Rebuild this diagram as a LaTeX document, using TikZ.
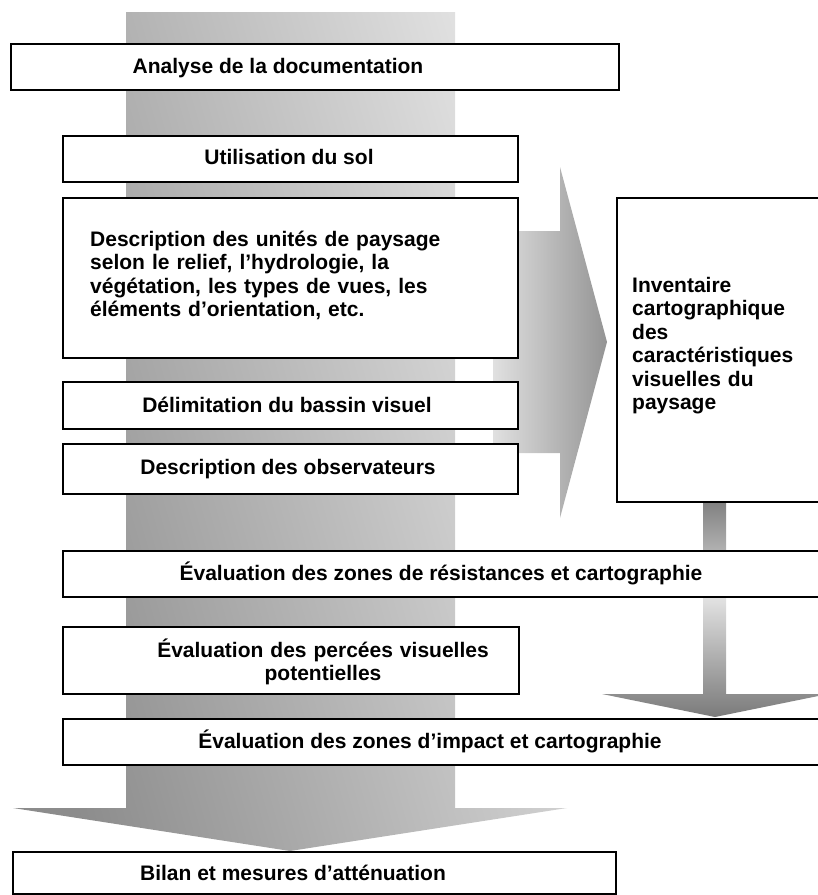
\documentclass[tikz,border=0pt]{standalone}
\usepackage{fontspec}
\setmainfont{Liberation Sans}
\usetikzlibrary{calc}
\begin{document}
\begin{tikzpicture}[x=1pt,y=-1pt,
  boxnode/.style={draw=black, fill=white, line width=1.6pt, inner sep=0pt, anchor=north west},
  lbl/.style={font=\fontsize{21}{23.5}\selectfont\bfseries, inner sep=0pt, anchor=base},
  lblml/.style={lbl, anchor=base west, align=left, text width=#1},
  lblmc/.style={lbl, anchor=base, align=center, text width=#1},
]
\useasboundingbox (0,0) rectangle (818,895);
% main vertical band with arrow head
\shade[top color=black!10, bottom color=black!45, shading angle=-74]
  (126,12) -- (455,12) -- (455,808) -- (567,808) -- (290,851) -- (13,808) -- (126,808) -- cycle;
% right arrow
\shade[left color=black!12, right color=black!42]
  (493,231) -- (560,231) -- (560,167) -- (607,342) -- (560,518) -- (560,453) -- (493,453) -- cycle;
% connector under inventory box
\shade[top color=black!50, bottom color=black!30] (703,500) rectangle (726,552);
% down arrow on the right
\shade[top color=black!10, bottom color=black!52]
  (703,594) -- (726,594) -- (726,694) -- (828,694) -- (715,717) -- (602,694) -- (703,694) -- cycle;

% boxes
\node[boxnode, minimum width=608pt, minimum height=46pt] (b1) at (10,43) {};
\node[boxnode, minimum width=455pt, minimum height=46pt] (b2) at (62,135) {};
\node[boxnode, minimum width=455pt, minimum height=160pt] (b3) at (62,197) {};
\node[boxnode, minimum width=455pt, minimum height=47pt] (b4) at (62,381) {};
\node[boxnode, minimum width=455pt, minimum height=50pt] (b5) at (62,443) {};
\node[boxnode, minimum width=210pt, minimum height=304pt] (b6) at (616,197) {};
\node[boxnode, minimum width=762pt, minimum height=46pt] (b7) at (62,550) {};
\node[boxnode, minimum width=456pt, minimum height=67pt] (b8) at (62,626) {};
\node[boxnode, minimum width=762pt, minimum height=46pt] (b9) at (62,718) {};
\node[boxnode, minimum width=603pt, minimum height=42pt] (b10) at (12,851) {};

% texts
\node[lbl] (t1) at (278,73) {Analyse de la documentation};
\node[lbl] (t2) at (289,164) {Utilisation du sol};
\node[lblml=420pt] (t3) at (90,246) {Description des unités de paysage\\selon le relief, l’hydrologie, la\\végétation, les types de vues, les\\éléments d’orientation, etc.};
\node[lbl] (t4) at (287,412) {Délimitation du bassin visuel};
\node[lbl] (t5) at (288,474) {Description des observateurs};
\node[lblml=185pt] (t6) at (632,292) {Inventaire\\cartographique\\des\\caractéristiques\\visuelles du\\paysage};
\node[lbl] (t7) at (441,580) {Évaluation des zones de résistances et cartographie};
\node[lblmc=420pt] (t8) at (323,657) {Évaluation des percées visuelles\\potentielles};
\node[lbl] (t9) at (430,748) {Évaluation des zones d’impact et cartographie};
\node[lbl] (t10) at (293,880) {Bilan et mesures d’atténuation};
\end{tikzpicture}
\end{document}
